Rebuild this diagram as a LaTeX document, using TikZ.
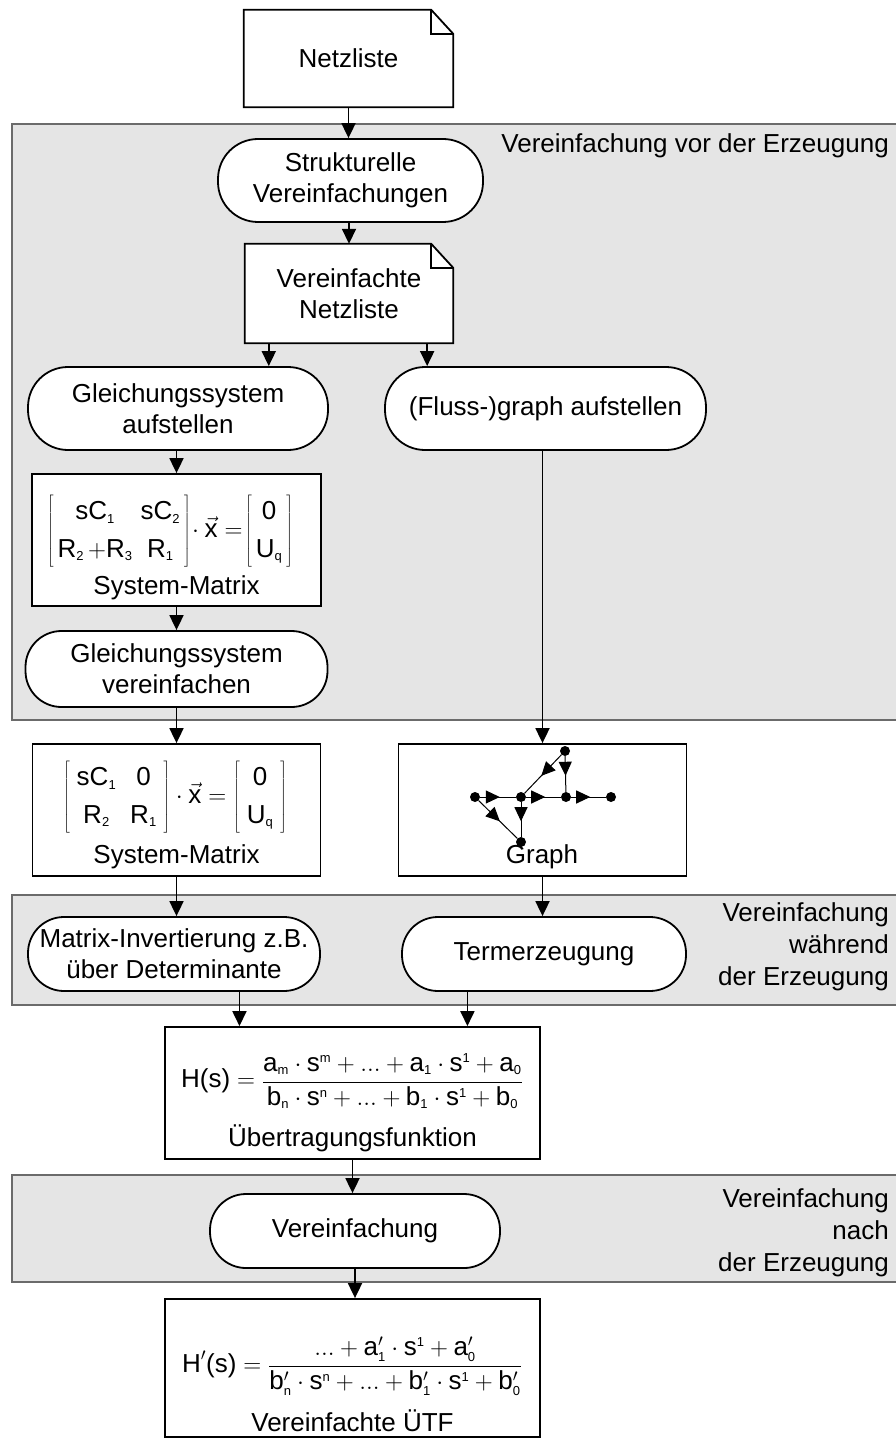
\documentclass[tikz,border=0pt]{standalone}
\usepackage{fontspec}
\setmainfont{Liberation Sans}
\usetikzlibrary{arrows.meta,calc,decorations.markings}
\newcommand{\rmv}[1]{\mathrm{#1}}
\newcommand{\idx}[2]{\mathrm{#1}_{\scriptscriptstyle\mathrm{#2}}}
\newcommand{\pw}[2]{\mathrm{#1}^{\scriptscriptstyle\mathrm{#2}}}
\newcommand{\pidx}[2]{\mathrm{#1}'_{\scriptscriptstyle\mathrm{#2}}}
\begin{document}
\begin{tikzpicture}[x=1pt,y=-1pt,
  txt/.style={font=\fontsize{26}{31}\selectfont, align=center, inner sep=0pt},
  docshape/.style={inner sep=0pt, minimum width=209pt, minimum height=97pt},
  stadium/.style={txt, draw, line width=1.8pt, fill=white, rounded corners=#1},
  stadium/.default=36pt,
  plainbox/.style={txt, draw, line width=1.8pt, fill=white},
  panel/.style={draw=black!58, fill=black!10, line width=1.5pt},
  arr/.style={line width=1.8pt, -{Triangle[length=15pt,width=14pt]}},
  outline/.style={line width=1.8pt, fill=white},
  dot/.style={circle, fill=black, inner sep=0pt, minimum size=10pt},
  gedge/.style={line width=1pt, postaction={decorate},
    decoration={markings, mark=at position 0.55 with {\arrow{Triangle[length=14pt,width=13pt]}}}},
]
\useasboundingbox (0,0) rectangle (896,1439);
\clip (0,0) rectangle (896,1439);

% grey stages
\draw[panel] (12,124) rectangle (905,720);
\draw[panel] (12,895) rectangle (905,1005);
\draw[panel] (12,1175) rectangle (905,1282);

\node[txt, anchor=east] (lab1) at (889,146) {Vereinfachung vor der Erzeugung};
\node[txt, align=right, anchor=north east] (lab2) at (889,902)
  {Vereinfachung\\[1pt]während\\[1pt]der Erzeugung};
\node[txt, align=right, anchor=north east] (lab3) at (889,1188)
  {Vereinfachung\\[1pt]nach\\[1pt]der Erzeugung};

% document symbols with folded corner
\node[docshape] (netzbox) at (348.5,58.5) {};
\node[docshape, minimum width=208pt, minimum height=99pt] (vnetzbox) at (349,293.5) {};
\foreach \d in {netzbox,vnetzbox} {
  \draw[outline] (\d.south west) -- (\d.north west) -- ([xshift=-22pt]\d.north east)
    -- ([yshift=-24pt]\d.north east) -- (\d.south east) -- cycle;
  \draw[line width=1.8pt] ([xshift=-22pt]\d.north east) |- ([yshift=-24pt]\d.north east);
}
\node[txt] (netz) at (netzbox) {Netzliste};
\node[txt] (vnetz) at (vnetzbox) {Vereinfachte\\Netzliste};

% process steps
\node[stadium=40pt, minimum width=265pt, minimum height=83pt] (strukt) at (350.5,180.5)
  {Strukturelle\\Vereinfachungen};
\node[stadium=40pt, minimum width=300pt, minimum height=83pt] (gsa) at (178,408.5)
  {Gleichungssystem\\aufstellen};
\node[stadium=40pt, minimum width=321pt, minimum height=83pt] (fga) at (545.5,408.5)
  {(Fluss-)graph aufstellen};
\node[stadium, minimum width=302pt, minimum height=76pt] (gsv) at (176.5,669)
  {Gleichungssystem\\vereinfachen};
\node[stadium, minimum width=292pt, minimum height=74pt] (mi) at (174,954)
  {Matrix-Invertierung z.B.\\über Determinante};
\node[stadium, minimum width=284pt, minimum height=74pt] (term) at (544,954)
  {Termerzeugung};
\node[stadium, minimum width=290pt, minimum height=74pt] (ver) at (355,1231)
  {Vereinfachung};

% result boxes
\node[plainbox, minimum width=289pt, minimum height=132pt] (sm1) at (176.5,540) {};
\node[txt] (sm1f) at (170,531)
  {$\renewcommand\arraystretch{1.2}\setlength\arraycolsep{4pt}\left[\begin{array}{cc}\rmv{s}\idx{C}{1} & \rmv{s}\idx{C}{2}\\ \idx{R}{2}\,{+}\idx{R}{3} & \idx{R}{1}\end{array}\right]\!\cdot\vec{\rmv{x}}=\!\left[\begin{array}{c}\rmv{0}\\ \idx{U}{q}\end{array}\right]$};
\node[txt] (sm1c) at (176.5,588) {System-Matrix};

\node[plainbox, minimum width=288pt, minimum height=132pt] (sm2) at (176.5,810) {};
\node[txt] (sm2f) at (175,797)
  {$\renewcommand\arraystretch{1.2}\setlength\arraycolsep{7pt}\left[\begin{array}{cc}\rmv{s}\idx{C}{1} & \rmv{0}\\ \idx{R}{2} & \idx{R}{1}\end{array}\right]\cdot\vec{\rmv{x}}=\left[\begin{array}{c}\rmv{0}\\ \idx{U}{q}\end{array}\right]$};
\node[txt] (sm2c) at (176.5,857) {System-Matrix};

\node[plainbox, minimum width=288pt, minimum height=132pt] (graphbox) at (542.5,810) {};
\node[dot] (gt) at (565,751) {};
\node[dot] (gl) at (475,797) {};
\node[dot] (ga) at (521,797) {};
\node[dot] (gb) at (566,797) {};
\node[dot] (gr) at (611,797) {};
\node[dot] (gd) at (521,842) {};
\draw[gedge] (gl) -- (ga);
\draw[gedge] (ga) -- (gb);
\draw[gedge] (gb) -- (gr);
\draw[gedge] (gt) -- (gb);
\draw[gedge] (gt) -- (ga);
\draw[gedge] (ga) -- (gd);
\draw[gedge] (gl) -- (gd);
\node[txt] (glab) at (542,857) {Graph};

\node[plainbox, minimum width=375pt, minimum height=132pt] (hbox) at (352.5,1093) {};
\node[txt] (hf) at (352,1081)
  {$\mbox{H(s)}=\displaystyle\frac{\idx{a}{m}\cdot\pw{s}{m}+\rmv{...}+\idx{a}{1}\cdot\pw{s}{1}+\idx{a}{0}}{\idx{b}{n}\cdot\pw{s}{n}+\rmv{...}+\idx{b}{1}\cdot\pw{s}{1}+\idx{b}{0}}$};
\node[txt] (hc) at (352.5,1138) {Übertragungsfunktion};

\node[plainbox, minimum width=375pt, minimum height=138pt] (hpbox) at (352.5,1368) {};
\node[txt] (hpf) at (352,1366)
  {$\mbox{H}'\mbox{(s)}=\displaystyle\frac{\rmv{...}+\pidx{a}{1}\cdot\pw{s}{1}+\pidx{a}{0}}{\pidx{b}{n}\cdot\pw{s}{n}+\rmv{...}+\pidx{b}{1}\cdot\pw{s}{1}+\pidx{b}{0}}$};
\node[txt] (hpc) at (352.5,1421) {Vereinfachte ÜTF};

% connectors
\coordinate (va) at ($(vnetzbox.south west)!0.115!(vnetzbox.south east)$);
\coordinate (vb) at ($(vnetzbox.south west)!0.875!(vnetzbox.south east)$);
\coordinate (ha) at ($(hbox.north west)!0.2!(hbox.north east)$);
\coordinate (hb) at ($(hbox.north west)!0.805!(hbox.north east)$);
\draw[arr] (netzbox.south) -- (netzbox.south |- strukt.north);
\draw[arr] (strukt.south -| vnetzbox.north) -- (vnetzbox.north);
\draw[arr] (va) -- (va |- gsa.north);
\draw[arr] (vb) -- (vb |- fga.north);
\draw[arr] (gsa.south -| sm1.north) -- (sm1.north);
\draw[arr] (sm1.south) -- (sm1.south |- gsv.north);
\draw[arr] (gsv.south) -- (gsv.south |- sm2.north);
\draw[arr] (fga.south -| graphbox.north) -- (graphbox.north);
\draw[arr] (sm2.south) -- (sm2.south |- mi.north);
\draw[arr] (graphbox.south) -- (graphbox.south |- term.north);
\draw[arr] (mi.south -| ha) -- (ha);
\draw[arr] (term.south -| hb) -- (hb);
\draw[arr] (hbox.south) -- (hbox.south |- ver.north);
\draw[arr] (ver.south) -- (ver.south |- hpbox.north);
\end{tikzpicture}
\end{document}
